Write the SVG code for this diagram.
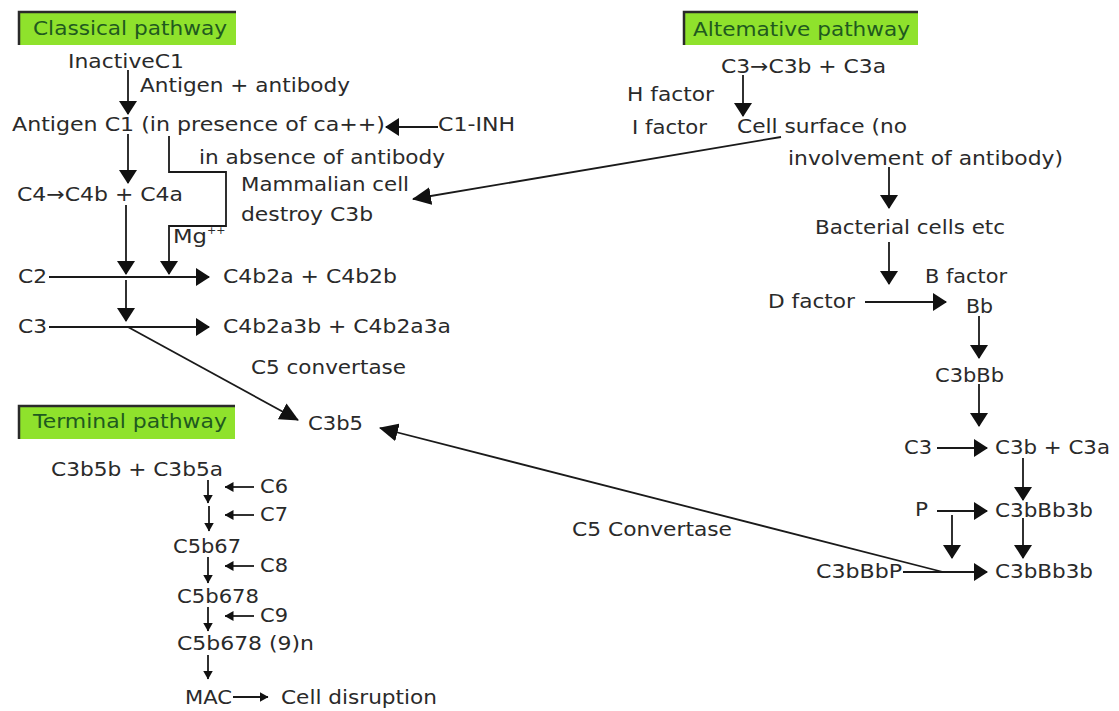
<svg xmlns="http://www.w3.org/2000/svg" width="1119" height="711" viewBox="0 0 1119 711">
<style>
text{font-family:"DejaVu Sans",Verdana,sans-serif;font-size:19.5px;fill:#2a2a2a}
.h{fill:#1f5a1f}
.hb{fill:#8fe22c}
.hl{fill:none;stroke:#2a2a2a;stroke-width:2.5}
.c{fill:none;stroke:#1a1a1a;stroke-width:1.8}
.big{marker-end:url(#ab)}
.dg{marker-end:url(#ad)}
.sm{marker-end:url(#as)}
.sup{font-size:11px}
</style>
<defs>
<marker id="ab" viewBox="0 0 14 18" refX="13" refY="9" markerWidth="14" markerHeight="18" markerUnits="userSpaceOnUse" orient="auto"><path d="M0,0 L14,9 L0,18 z" fill="#111"/></marker>
<marker id="ad" viewBox="0 0 19 18" refX="18" refY="9" markerWidth="19" markerHeight="18" markerUnits="userSpaceOnUse" orient="auto"><path d="M0,0 L19,9 L0,18 z" fill="#111"/></marker>
<marker id="as" viewBox="0 0 9 10" refX="8.5" refY="5" markerWidth="9" markerHeight="10" markerUnits="userSpaceOnUse" orient="auto"><path d="M0,0 L9,5 L0,10 z" fill="#111"/></marker>
</defs>
<rect width="1119" height="711" fill="#fff"/>

<g id="hdr-classical"><rect class="hb" x="18" y="11" width="218" height="34"/><path class="hl" d="M19,45 V12 H236"/><text class="h" x="33" y="35" textLength="194" lengthAdjust="spacingAndGlyphs">Classical pathway</text></g>
<g id="hdr-alternative"><rect class="hb" x="683" y="11" width="235" height="34"/><path class="hl" d="M684,45 V12 H918"/><text class="h" x="693" y="36" textLength="217" lengthAdjust="spacingAndGlyphs">Altemative pathway</text></g>
<g id="hdr-terminal"><rect class="hb" x="18" y="405" width="217" height="34"/><path class="hl" d="M19,439 V406 H235"/><text class="h" x="33" y="428" textLength="194" lengthAdjust="spacingAndGlyphs">Terminal pathway</text></g>

<g id="n-inactivec1"><text x="68" y="68" textLength="116" lengthAdjust="spacingAndGlyphs">InactiveC1</text></g>
<g id="n-agab"><text x="140" y="92" textLength="210" lengthAdjust="spacingAndGlyphs">Antigen + antibody</text></g>
<g id="n-antigenc1"><text x="12" y="131" textLength="373" lengthAdjust="spacingAndGlyphs">Antigen C1 (in presence of ca++)</text></g>
<g id="n-c1inh"><text x="438" y="131" textLength="77" lengthAdjust="spacingAndGlyphs">C1-INH</text></g>
<g id="n-absence"><text x="199" y="164" textLength="246" lengthAdjust="spacingAndGlyphs">in absence of antibody</text></g>
<g id="n-c4"><text x="17" y="201" textLength="166" lengthAdjust="spacingAndGlyphs">C4→C4b + C4a</text></g>
<g id="n-mammalian"><text x="241" y="191" textLength="168" lengthAdjust="spacingAndGlyphs">Mammalian cell</text><text x="241" y="221" textLength="132" lengthAdjust="spacingAndGlyphs">destroy C3b</text></g>
<g id="n-mg"><text x="173" y="243" textLength="34" lengthAdjust="spacingAndGlyphs">Mg</text><text class="sup" x="207" y="234">++</text></g>
<g id="n-c2"><text x="18" y="283" textLength="29" lengthAdjust="spacingAndGlyphs">C2</text></g>
<g id="n-c4b2a"><text x="223" y="283" textLength="174" lengthAdjust="spacingAndGlyphs">C4b2a + C4b2b</text></g>
<g id="n-c3l"><text x="18" y="333" textLength="29" lengthAdjust="spacingAndGlyphs">C3</text></g>
<g id="n-c4b2a3b"><text x="223" y="333" textLength="228" lengthAdjust="spacingAndGlyphs">C4b2a3b + C4b2a3a</text></g>
<g id="n-c5conv"><text x="251" y="374" textLength="155" lengthAdjust="spacingAndGlyphs">C5 convertase</text></g>
<g id="n-c3b5"><text x="308" y="430" textLength="55" lengthAdjust="spacingAndGlyphs">C3b5</text></g>

<g id="n-c3b5b"><text x="51" y="476" textLength="172" lengthAdjust="spacingAndGlyphs">C3b5b + C3b5a</text></g>
<g id="n-c6"><text x="260" y="493" textLength="28" lengthAdjust="spacingAndGlyphs">C6</text></g>
<g id="n-c7"><text x="260" y="521" textLength="28" lengthAdjust="spacingAndGlyphs">C7</text></g>
<g id="n-c5b67"><text x="173" y="553" textLength="68" lengthAdjust="spacingAndGlyphs">C5b67</text></g>
<g id="n-c8"><text x="260" y="572" textLength="28" lengthAdjust="spacingAndGlyphs">C8</text></g>
<g id="n-c5b678"><text x="177" y="603" textLength="82" lengthAdjust="spacingAndGlyphs">C5b678</text></g>
<g id="n-c9"><text x="260" y="622" textLength="28" lengthAdjust="spacingAndGlyphs">C9</text></g>
<g id="n-c5b6789n"><text x="177" y="650" textLength="137" lengthAdjust="spacingAndGlyphs">C5b678 (9)n</text></g>
<g id="n-mac"><text x="185" y="704" textLength="47" lengthAdjust="spacingAndGlyphs">MAC</text></g>
<g id="n-disrupt"><text x="281" y="704" textLength="156" lengthAdjust="spacingAndGlyphs">Cell disruption</text></g>

<g id="n-c3r"><text x="721" y="73" textLength="165" lengthAdjust="spacingAndGlyphs">C3→C3b + C3a</text></g>
<g id="n-hfactor"><text x="627" y="101" textLength="87" lengthAdjust="spacingAndGlyphs">H factor</text></g>
<g id="n-ifactor"><text x="632" y="134" textLength="75" lengthAdjust="spacingAndGlyphs">I factor</text></g>
<g id="n-cellsurface"><text x="737" y="133" textLength="170" lengthAdjust="spacingAndGlyphs">Cell surface (no</text><text x="788" y="165" textLength="275" lengthAdjust="spacingAndGlyphs">involvement of antibody)</text></g>
<g id="n-bacterial"><text x="815" y="234" textLength="190" lengthAdjust="spacingAndGlyphs">Bacterial cells etc</text></g>
<g id="n-bfactor"><text x="925" y="283" textLength="82" lengthAdjust="spacingAndGlyphs">B factor</text></g>
<g id="n-dfactor"><text x="768" y="308" textLength="87" lengthAdjust="spacingAndGlyphs">D factor</text></g>
<g id="n-bb"><text x="966" y="313" textLength="27" lengthAdjust="spacingAndGlyphs">Bb</text></g>
<g id="n-c3bbb"><text x="935" y="382" textLength="69" lengthAdjust="spacingAndGlyphs">C3bBb</text></g>
<g id="n-c3r2"><text x="904" y="454" textLength="28" lengthAdjust="spacingAndGlyphs">C3</text></g>
<g id="n-c3bc3a"><text x="995" y="454" textLength="115" lengthAdjust="spacingAndGlyphs">C3b + C3a</text></g>
<g id="n-p"><text x="915" y="516" textLength="13" lengthAdjust="spacingAndGlyphs">P</text></g>
<g id="n-c3bbb3b1"><text x="995" y="517" textLength="98" lengthAdjust="spacingAndGlyphs">C3bBb3b</text></g>
<g id="n-c3bbbp"><text x="816" y="578" textLength="86" lengthAdjust="spacingAndGlyphs">C3bBbP</text></g>
<g id="n-c3bbb3b2"><text x="995" y="578" textLength="98" lengthAdjust="spacingAndGlyphs">C3bBb3b</text></g>
<g id="n-c5conv2"><text x="572" y="536" textLength="160" lengthAdjust="spacingAndGlyphs">C5 Convertase</text></g>

<g id="connectors">
<path class="c big" d="M128,70 V114"/>
<path class="c big" d="M128,134 V183"/>
<path class="c big" d="M438,127 H386"/>
<path class="c big" d="M169,136 V172 H226 V226 H169 V274"/>
<path class="c big" d="M126,205 V274"/>
<path class="c big" d="M49,277 H209"/>
<path class="c big" d="M126,280 V321"/>
<path class="c big" d="M49,327 H209"/>
<path class="c dg" d="M128,327 L298,420"/>
<path class="c dg" d="M781,137 L413,199"/>
<path class="c big" d="M743,75 V116"/>
<path class="c big" d="M889,167 V208"/>
<path class="c big" d="M889,242 V284"/>
<path class="c big" d="M865,302 H946"/>
<path class="c big" d="M979,316 V358"/>
<path class="c big" d="M979,384 V426"/>
<path class="c big" d="M937,448 H987"/>
<path class="c big" d="M1023,458 V500"/>
<path class="c big" d="M937,511 H987"/>
<path class="c big" d="M952,515 V558"/>
<path class="c big" d="M1023,518 V558"/>
<path class="c big" d="M903,572 H987"/>
<path class="c dg" d="M943,572 L380,428"/>
<path class="c sm" d="M208,480 V503"/>
<path class="c sm" d="M209,506 V531"/>
<path class="c sm" d="M208,557 V583"/>
<path class="c sm" d="M208,607 V631"/>
<path class="c sm" d="M208,655 V679"/>
<path class="c sm" d="M254,487 H225"/>
<path class="c sm" d="M254,515 H225"/>
<path class="c sm" d="M254,566 H225"/>
<path class="c sm" d="M254,616 H225"/>
<path class="c sm" d="M233,697 H268"/>
</g>
</svg>
